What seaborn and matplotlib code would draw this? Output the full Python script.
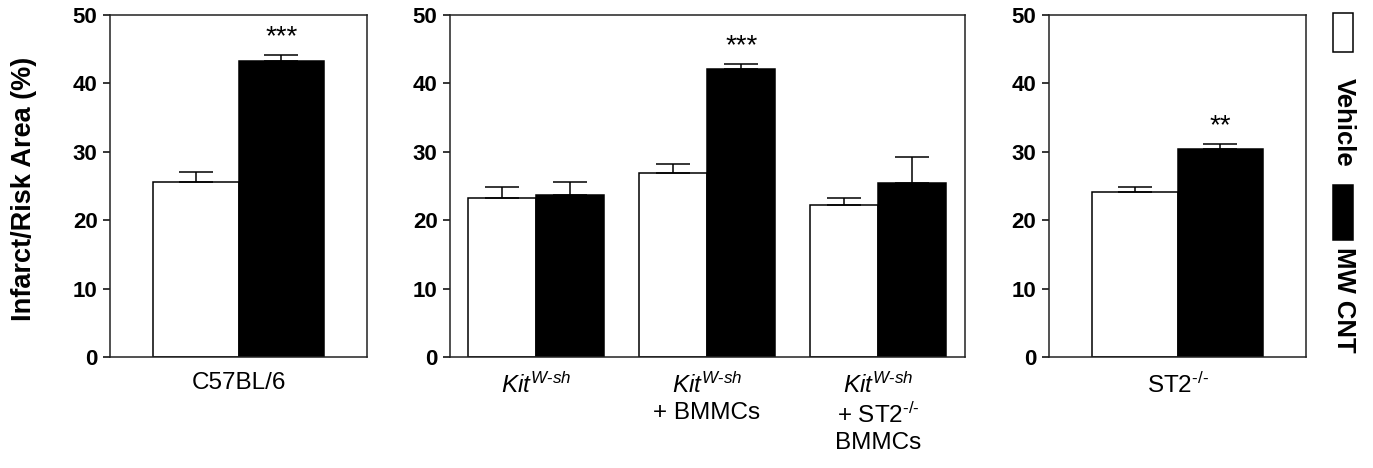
import matplotlib
matplotlib.use("Agg")
import matplotlib.pyplot as plt
from matplotlib.patches import Rectangle
import seaborn as sns
import pandas as pd

# ---------------- data ----------------
treatments = ["Vehicle", "MW CNT"]
colors = ["white", "black"]

groups1 = ["C57BL/6"]
vehicle1 = [25.6]
vehicle1_se = [1.4]
mwcnt1 = [43.3]
mwcnt1_se = [0.9]
stars1 = ["***"]

groups2 = [r"$\mathit{Kit}^{\mathit{W\text{-}sh}}$",
           "$\\mathit{Kit}^{\\mathit{W\\text{-}sh}}$\n+ BMMCs",
           "$\\mathit{Kit}^{\\mathit{W\\text{-}sh}}$\n+ ST2$^{\\text{-/-}}$\nBMMCs"]
vehicle2 = [23.3, 26.85, 22.2]
vehicle2_se = [1.5, 1.35, 1.05]
mwcnt2 = [23.7, 42.05, 25.5]
mwcnt2_se = [1.9, 0.85, 3.7]
stars2 = ["", "***", ""]

groups3 = ["ST2$^{\\text{-/-}}$"]
vehicle3 = [24.1]
vehicle3_se = [0.75]
mwcnt3 = [30.4]
mwcnt3_se = [0.8]
stars3 = ["**"]

yticks = [0, 10, 20, 30, 40, 50]
ylabel = "Infarct/Risk Area (%)"

# ---------------- style ----------------
sns.set_style("white")
plt.rcParams["font.family"] = ["Liberation Sans", "DejaVu Sans"]
plt.rcParams["text.color"] = "black"
plt.rcParams["xtick.color"] = "black"
plt.rcParams["ytick.color"] = "black"
plt.rcParams["axes.labelcolor"] = "black"
plt.rcParams["mathtext.fontset"] = "custom"
plt.rcParams["mathtext.rm"] = "Liberation Sans"
plt.rcParams["mathtext.it"] = "Liberation Sans:italic"
plt.rcParams["mathtext.bf"] = "Liberation Sans:bold"

W, H = 1373, 468
fig = plt.figure(figsize=(W / 100, H / 100), dpi=100)
fig.patch.set_facecolor("white")

top_px, bot_px = 15, 357


def make_ax(left_px, width_px):
    return fig.add_axes([left_px / W, (H - bot_px) / H, width_px / W, (bot_px - top_px) / H])


def panel(ax, groups, veh, veh_se, mw, mw_se, stars, xlim):
    df = pd.DataFrame({
        "group": groups * 2,
        "treatment": [treatments[0]] * len(groups) + [treatments[1]] * len(groups),
        "value": list(veh) + list(mw),
    })
    sns.barplot(data=df, x="group", y="value", hue="treatment", order=groups,
                hue_order=treatments, palette=colors, saturation=1, width=0.8,
                edgecolor="black", linewidth=1.1, errorbar=None, legend=False, ax=ax)
    for cont, errs in zip(ax.containers, [veh_se, mw_se]):
        xs = [p.get_x() + p.get_width() / 2 for p in cont.patches]
        hs = [p.get_height() for p in cont.patches]
        ax.errorbar(xs, hs, yerr=[[0] * len(errs), errs], fmt="none", ecolor="black",
                    elinewidth=1.1, capsize=12.5, capthick=1.1, zorder=5)
    mw_cont = ax.containers[1]
    for p, e, t in zip(mw_cont.patches, mw_se, stars):
        if t:
            ax.text(p.get_x() + p.get_width() / 2, p.get_height() + e + 1.5, t,
                    ha="center", va="baseline", fontsize=20)
    ax.set_xlim(*xlim)
    ax.set_ylim(0, 50)
    ax.set_yticks(yticks)
    ax.set_yticklabels([str(v) for v in yticks], fontsize=16, fontweight="bold")
    ax.tick_params(axis="y", direction="out", length=5, width=1.1, pad=4, left=True)
    ax.tick_params(axis="x", length=0, pad=11, labelsize=17.5)
    for lab in ax.get_xticklabels():
        lab.set_linespacing(1.25)
    ax.set_xlabel("")
    ax.set_ylabel("")
    for sp in ax.spines.values():
        sp.set_visible(True)
        sp.set_linewidth(1.1)
        sp.set_color("#222222")


ax1 = make_ax(110, 257)
panel(ax1, groups1, vehicle1, vehicle1_se, mwcnt1, mwcnt1_se, stars1, (-0.598, 0.598))
ax2 = make_ax(450, 515)
panel(ax2, groups2, vehicle2, vehicle2_se, mwcnt2, mwcnt2_se, stars2, (-0.503, 2.509))
ax3 = make_ax(1049, 257)
panel(ax3, groups3, vehicle3, vehicle3_se, mwcnt3, mwcnt3_se, stars3, (-0.598, 0.598))

fig.text(24 / W, 1 - 189 / H, ylabel, rotation=90, ha="center", va="center",
         fontsize=19.5, fontweight="bold")

# legend (vertical, rotated text)
leg_boxes = [(1333, 13, 20, 39), (1333, 185, 20, 55)]
leg_text_y = [122, 300]
for (x0, y0, w, h), c, lab, ty in zip(leg_boxes, colors, treatments, leg_text_y):
    fig.patches.append(Rectangle((x0 / W, 1 - (y0 + h) / H), w / W, h / H,
                                 transform=fig.transFigure, facecolor=c,
                                 edgecolor="black", linewidth=1.1))
    fig.text(1344 / W, 1 - ty / H, lab, rotation=270, ha="center", va="center",
             fontsize=18.5, fontweight="bold")

fig.savefig("out.png", dpi=100, facecolor="white")
